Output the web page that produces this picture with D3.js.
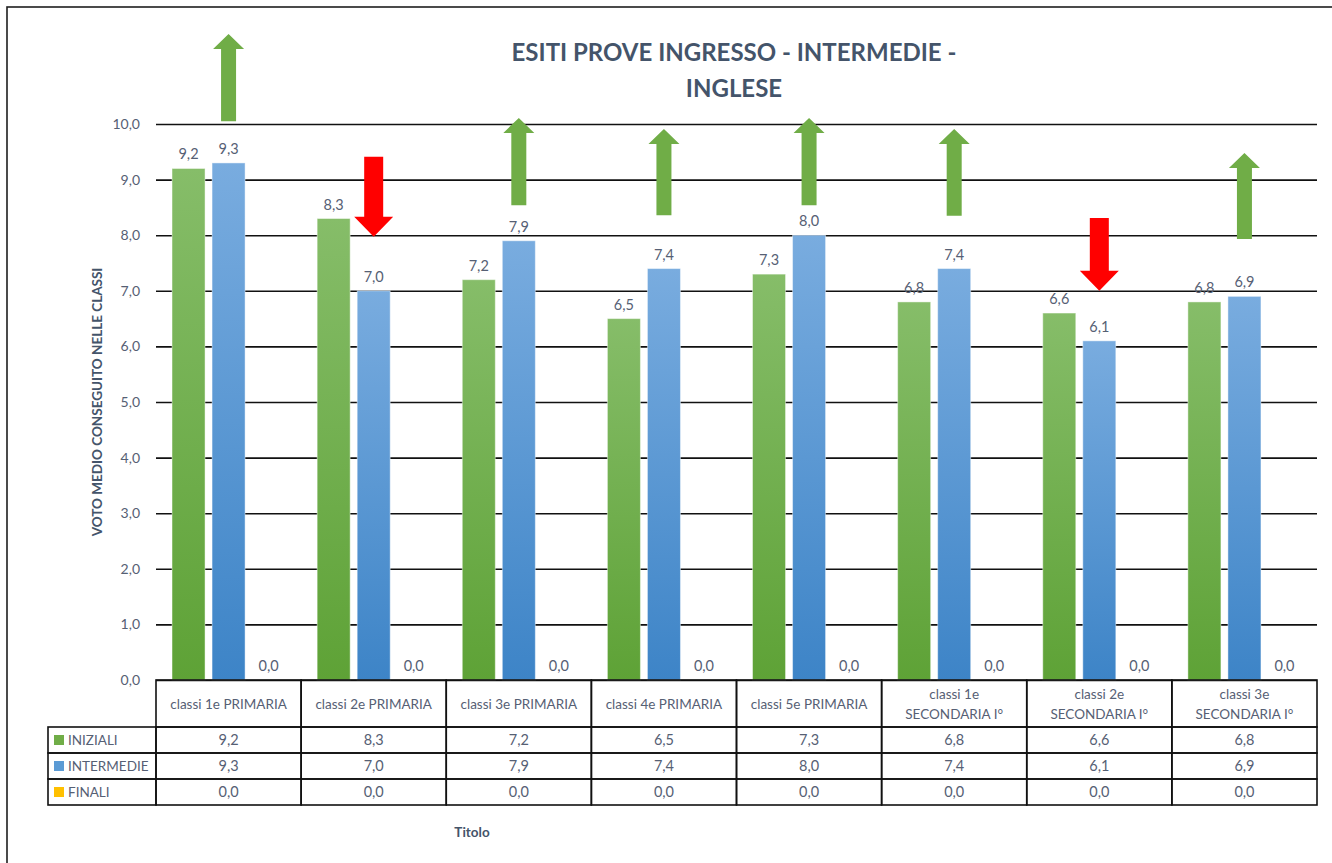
<!DOCTYPE html>
<html>
<head>
<meta charset="utf-8">
<script src="https://cdn.jsdelivr.net/npm/d3@7"></script>
<style>
  body { margin: 0; background: #fff; }
  text { font-family: Lato, "Open Sans", sans-serif; }
</style>
</head>
<body>
<script>
var categories = [
  'classi 1e PRIMARIA',
  'classi 2e PRIMARIA',
  'classi 3e PRIMARIA',
  'classi 4e PRIMARIA',
  'classi 5e PRIMARIA',
  'classi 1e\nSECONDARIA I°',
  'classi 2e\nSECONDARIA I°',
  'classi 3e\nSECONDARIA I°'
];
var seriesNames = ['INIZIALI', 'INTERMEDIE', 'FINALI'];
var iniziali   = [9.2, 8.3, 7.2, 6.5, 7.3, 6.8, 6.6, 6.8];
var intermedie = [9.3, 7.0, 7.9, 7.4, 8.0, 7.4, 6.1, 6.9];
var finali     = [0.0, 0.0, 0.0, 0.0, 0.0, 0.0, 0.0, 0.0];
var yTicks = [0, 1, 2, 3, 4, 5, 6, 7, 8, 9, 10];
// arrow annotations, ends in axis units (tail = shaft end, tip = point)
var arrowTail = [10.05, 9.41, 8.54, 8.36, 8.54, 8.35, 8.31, 7.93];
var arrowTip  = [11.62, 7.97, 10.11, 9.91, 10.11, 9.91, 7.0, 9.48];

var W = 1332, H = 863;
var plotL = 156, plotR = 1317, plotT = 124, plotB = 680;
var legendL = 48;
var headerH = 47, rowH = 26;
var labelColor = '#566074', titleColor = '#44546a';

var allSeries = [iniziali, intermedie, finali];
var seriesFill = ['url(#gGreen)', 'url(#gBlue)', '#ffc000'];
var swatch = ['#70ad47', '#5b9bd5', '#ffc000'];

var fmt = function(v) { return d3.format('.1f')(v).replace('.', ','); };

var svg = d3.select('body').append('svg')
  .attr('width', W)
  .attr('height', H);

var defs = svg.append('defs');
[['gGreen', '#86bd69', '#5ea236'], ['gBlue', '#79acdf', '#3d84c7']].forEach(function(g) {
  var lg = defs.append('linearGradient').attr('id', g[0])
    .attr('x1', 0).attr('y1', 0).attr('x2', 0).attr('y2', 1);
  lg.append('stop').attr('offset', '0%').attr('stop-color', g[1]);
  lg.append('stop').attr('offset', '100%').attr('stop-color', g[2]);
});

// outer frame
svg.append('rect')
  .attr('x', 7).attr('y', 7)
  .attr('width', W + 20).attr('height', H + 20)
  .attr('fill', 'none')
  .attr('stroke', '#1e1e1e')
  .attr('stroke-width', 1.6);

var x = d3.scaleBand().domain(d3.range(categories.length)).range([plotL, plotR]);
var xs = d3.scaleBand().domain(d3.range(3)).range([0, x.bandwidth()])
  .paddingInner(0.175).paddingOuter(0.4);
var y = d3.scaleLinear().domain([0, 10]).range([plotB, plotT]);

// title
svg.append('text')
  .attr('x', 734).attr('y', 61)
  .attr('text-anchor', 'middle')
  .attr('fill', titleColor)
  .style('font-size', '24px').style('font-weight', 'bold')
  .selectAll('tspan')
  .data(['ESITI PROVE INGRESSO - INTERMEDIE -', 'INGLESE'])
  .enter().append('tspan')
    .attr('x', 734)
    .attr('dy', function(d, i) { return i ? 36 : 0; })
    .text(function(d) { return d; });

// y axis + gridlines
var yAxis = svg.append('g')
  .attr('transform', 'translate(' + plotL + ',0)')
  .call(d3.axisLeft(y).tickValues(yTicks).tickFormat(fmt)
    .tickSize(-(plotR - plotL)).tickPadding(16));
yAxis.select('.domain').remove();
yAxis.selectAll('.tick line').attr('stroke', '#111').attr('stroke-width', 1.6);
yAxis.selectAll('.tick text')
  .attr('fill', labelColor)
  .style('font-size', '14px');

svg.append('text')
  .attr('transform', 'translate(102,' + ((plotT + plotB) / 2) + ') rotate(-90)')
  .attr('text-anchor', 'middle')
  .attr('fill', titleColor)
  .style('font-size', '13.5px').style('font-weight', 'bold')
  .text('VOTO MEDIO CONSEGUITO NELLE CLASSI');

// bars
allSeries.forEach(function(vals, s) {
  var g = svg.append('g');
  g.selectAll('rect')
    .data(vals)
    .enter().append('rect')
      .attr('x', function(d, i) { return x(i) + xs(s); })
      .attr('y', function(d) { return y(d); })
      .attr('width', xs.bandwidth())
      .attr('height', function(d) { return plotB - y(d); })
      .attr('fill', seriesFill[s])
      .attr('stroke', 'rgba(255,255,255,0.45)')
      .attr('stroke-width', 1);
  g.selectAll('text')
    .data(vals)
    .enter().append('text')
      .attr('x', function(d, i) { return x(i) + xs(s) + xs.bandwidth() / 2; })
      .attr('y', function(d) { return y(d) - 9; })
      .attr('text-anchor', 'middle')
      .attr('fill', labelColor)
      .style('font-size', '14.5px')
      .text(fmt);
});

// arrows: up if intermedie improved on iniziali
function arrowPath(cx, yTail, yTip, up) {
  var sw = up ? 7.5 : 9.5, hw = up ? 15.5 : 19.5, hh = up ? 15 : 20;
  var yNeck = up ? yTip + hh : yTip - hh;
  return 'M' + (cx - sw) + ',' + yTail +
    'L' + (cx - sw) + ',' + yNeck +
    'L' + (cx - hw) + ',' + yNeck +
    'L' + cx + ',' + yTip +
    'L' + (cx + hw) + ',' + yNeck +
    'L' + (cx + sw) + ',' + yNeck +
    'L' + (cx + sw) + ',' + yTail + 'Z';
}
svg.append('g').selectAll('path')
  .data(categories)
  .enter().append('path')
    .attr('d', function(d, i) {
      var up = intermedie[i] >= iniziali[i];
      var cx = x(i) + xs(1) + xs.bandwidth() / 2;
      return arrowPath(cx, y(arrowTail[i]), y(arrowTip[i]), up);
    })
    .attr('fill', function(d, i) { return intermedie[i] >= iniziali[i] ? '#70ad47' : '#ff0000'; });

// data table
var table = svg.append('g');
var rowTop = plotB + headerH;

table.selectAll('.hcell')
  .data(categories)
  .enter().append('rect')
    .attr('x', function(d, i) { return x(i); })
    .attr('y', plotB)
    .attr('width', x.bandwidth())
    .attr('height', headerH)
    .attr('fill', 'none').attr('stroke', '#111').attr('stroke-width', 1.6);

table.selectAll('.htext')
  .data(categories)
  .enter().append('text')
    .attr('text-anchor', 'middle')
    .attr('fill', labelColor)
    .style('font-size', '13.5px')
    .each(function(d, i) {
      var lines = d.split('\n');
      var t = d3.select(this);
      lines.forEach(function(l, k) {
        t.append('tspan')
          .attr('x', x(i) + x.bandwidth() / 2)
          .attr('y', plotB + headerH / 2 + 5 + (k - (lines.length - 1) / 2) * 20)
          .text(l);
      });
    });

allSeries.forEach(function(vals, s) {
  var ry = rowTop + s * rowH;
  table.append('rect')
    .attr('x', legendL).attr('y', ry)
    .attr('width', plotL - legendL).attr('height', rowH)
    .attr('fill', 'none').attr('stroke', '#111').attr('stroke-width', 1.6);
  table.append('rect')
    .attr('x', legendL + 6).attr('y', ry + rowH / 2 - 5)
    .attr('width', 10).attr('height', 10)
    .attr('fill', swatch[s]);
  table.append('text')
    .attr('x', legendL + 20).attr('y', ry + rowH / 2 + 5)
    .attr('fill', labelColor)
    .style('font-size', '13.5px')
    .text(seriesNames[s]);

  table.selectAll('.c' + s)
    .data(vals)
    .enter().append('rect')
      .attr('x', function(d, i) { return x(i); })
      .attr('y', ry)
      .attr('width', x.bandwidth())
      .attr('height', rowH)
      .attr('fill', 'none').attr('stroke', '#111').attr('stroke-width', 1.6);
  table.selectAll('.t' + s)
    .data(vals)
    .enter().append('text')
      .attr('x', function(d, i) { return x(i) + x.bandwidth() / 2; })
      .attr('y', ry + rowH / 2 + 5)
      .attr('text-anchor', 'middle')
      .attr('fill', labelColor)
      .style('font-size', '14.5px')
      .text(fmt);
});

svg.append('text')
  .attr('x', 472).attr('y', 837)
  .attr('text-anchor', 'middle')
  .attr('fill', titleColor)
  .style('font-size', '13.5px').style('font-weight', 'bold')
  .text('Titolo');
</script>
</body>
</html>
